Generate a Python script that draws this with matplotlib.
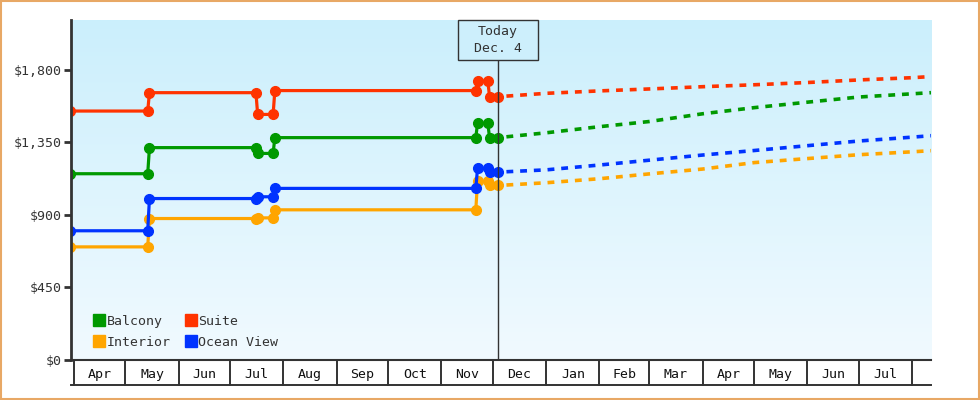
import matplotlib
matplotlib.use("Agg")
import matplotlib.pyplot as plt
import numpy as np
import pandas as pd
from matplotlib.lines import Line2D
from matplotlib.patches import Rectangle

# ---------------- data ----------------
hist_dates = ["2015-03-30", "2015-05-14", "2015-05-15", "2015-07-16", "2015-07-17",
              "2015-07-26", "2015-07-27", "2015-11-21", "2015-11-22", "2015-11-28",
              "2015-11-29", "2015-12-04"]
fc_dates = ["2015-12-04", "2016-01-01", "2016-02-01", "2016-03-01", "2016-04-01",
            "2016-05-01", "2016-06-01", "2016-07-01", "2016-08-01", "2016-08-12"]

series_names = ["Balcony", "Interior", "Suite", "Ocean View"]
series_colors = ["#009900", "#ffa500", "#ff3300", "#0033ff"]

balcony_hist = [1156, 1156, 1318, 1318, 1282, 1282, 1380, 1380, 1469, 1469, 1380, 1380]
interior_hist = [702, 702, 878, 878, 882, 882, 932, 932, 1108, 1108, 1083, 1083]
suite_hist = [1545, 1545, 1659, 1659, 1524, 1524, 1672, 1672, 1731, 1731, 1634, 1634]
ocean_hist = [802, 802, 1002, 1002, 1013, 1013, 1065, 1065, 1189, 1189, 1166, 1166]

balcony_fc = [1380, 1410, 1448, 1480, 1528, 1566, 1600, 1632, 1652, 1659]
interior_fc = [1083, 1100, 1125, 1155, 1185, 1225, 1250, 1274, 1292, 1299]
suite_fc = [1634, 1655, 1670, 1682, 1696, 1708, 1722, 1738, 1752, 1759]
ocean_fc = [1166, 1180, 1210, 1240, 1272, 1300, 1330, 1359, 1383, 1392]

y_ticks = [0, 450, 900, 1350, 1800]
y_labels = ["$0", "$450", "$900", "$1,350", "$1,800"]
month_starts = pd.date_range("2015-04-01", "2016-08-01", freq="MS")
month_labels = [d.strftime("%b") for d in month_starts]
today = "2015-12-04"
today_text = "Today\nDec. 4"

x_start = pd.Timestamp("2015-03-30 08:00")
x_end = pd.Timestamp("2016-08-12")
y_max = 2110

hist = [balcony_hist, interior_hist, suite_hist, ocean_hist]
fc = [balcony_fc, interior_fc, suite_fc, ocean_fc]

# ---------------- figure ----------------
FONT = "DejaVu Sans Mono"
plt.rcParams["font.family"] = [FONT]
TXT = "#333333"

fig = plt.figure(figsize=(9.8, 4.0), dpi=100)
fig.patch.set_facecolor("white")
L, R, B, T = 71 / 980, 931 / 980, 40 / 400, 380 / 400
ax = fig.add_axes([L, B, R - L, T - B])

# gradient background
top_c = np.array([203, 239, 252]) / 255.0
bot_c = np.array([241, 250, 255]) / 255.0
grad = np.linspace(0, 1, 256)[:, None]
img = top_c[None, None, :] * (1 - grad[:, :, None]) + bot_c[None, None, :] * grad[:, :, None]
ax.imshow(img, extent=[0, 1, 0, 1], transform=ax.transAxes, aspect="auto", zorder=0)
ax.set_facecolor("none")

hd = pd.to_datetime(hist_dates)
fd = pd.to_datetime(fc_dates)
for name, col, h, f in zip(series_names, series_colors, hist, fc):
    ax.plot(hd, h, color=col, lw=2.3, marker="o", markersize=7, zorder=4,
            solid_joinstyle="round")
    ax.plot(fd, f, color=col, lw=2.6, linestyle=(1.5, (1.9, 1.9)), zorder=3)

ax.set_xlim(x_start, x_end)
ax.set_ylim(0, y_max)

# today line & box
td = pd.Timestamp(today)
xt = ax.get_xaxis_transform()
box_h = 40 / 340
box_w_days = 80 / 1.721
ax.plot([td, td], [0, 1 - box_h], color=TXT, lw=1.0, transform=xt, zorder=5)
ax.add_patch(Rectangle((td - pd.Timedelta(days=box_w_days / 2), 1 - box_h),
                       pd.Timedelta(days=box_w_days), box_h, transform=xt,
                       facecolor="#cdeffc", edgecolor=TXT, lw=1.0, zorder=6,
                       clip_on=False))
ax.text(td, 1 - box_h / 2, today_text, transform=xt, ha="center", va="center",
        fontsize=9.5, color=TXT, linespacing=1.45, zorder=7)

# spines
for s in ["top", "right"]:
    ax.spines[s].set_visible(False)
ax.spines["left"].set_linewidth(2.0)
ax.spines["left"].set_color(TXT)
ax.spines["bottom"].set_linewidth(1.5)
ax.spines["bottom"].set_color(TXT)
ax.spines["left"].set_zorder(8)

# y axis
ax.set_yticks(y_ticks)
ax.set_yticklabels(y_labels)
ax.tick_params(axis="y", direction="out", length=5, width=2, color=TXT,
               labelsize=9.5, labelcolor=TXT, pad=2)

# x axis: boxes at month starts, labels mid-month
ax.set_xticks(month_starts, minor=True)
mids = [d + pd.Timedelta(days=(d.days_in_month) / 2) for d in month_starts]
ax.set_xticks(mids[:-1])
ax.set_xticklabels(month_labels[:-1])
ax.tick_params(axis="x", which="major", length=0, labelsize=9.5, labelcolor="#111111", pad=6)
ax.tick_params(axis="x", which="minor", direction="out", length=18.5, width=1.4, color=TXT)
ax.plot([0, 1], [-25 / 340, -25 / 340], transform=ax.transAxes, color=TXT, lw=1.4,
        clip_on=False, zorder=5)

# legend
handles = [Line2D([], [], linestyle="none", marker="s", markersize=8.5,
                  markerfacecolor=c, markeredgecolor=c) for c in series_colors]
leg = ax.legend(handles, series_names, ncol=2, loc="lower left",
                bbox_to_anchor=(0.014, 0.005), frameon=False, fontsize=9.5,
                handletextpad=0.1, columnspacing=1.0, labelspacing=0.62,
                handlelength=1.0, borderaxespad=0.3)
for t in leg.get_texts():
    t.set_color(TXT)

# orange frame
fig.patches.append(Rectangle((0.0008, 0.0015), 0.998, 0.997, transform=fig.transFigure,
                             fill=False, edgecolor="#e8a865", lw=1.5))

fig.savefig("out.png", dpi=100)
